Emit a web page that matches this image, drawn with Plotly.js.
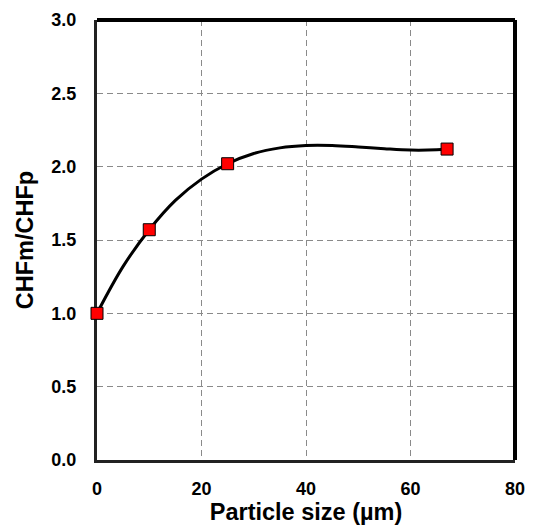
<!DOCTYPE html>
<html>
<head>
<meta charset="utf-8">
<script src="https://cdn.plot.ly/plotly-3.0.1.min.js"></script>
<style>html,body{margin:0;padding:0;background:#fff;}#chart{width:535px;height:526px;}</style>
</head>
<body>
<div id="chart"></div>
<script>
// Measured points
const particleSize = [0, 10, 25, 67];
const chfRatio = [1.0, 1.57, 2.02, 2.12];
// Trend curve
const curveX = [0, 5, 10, 15, 20, 25, 30, 35, 40, 45, 50, 55, 60, 65, 67];
const curveY = [1.0, 1.32, 1.57, 1.77, 1.915, 2.02, 2.09, 2.128, 2.144, 2.144, 2.134, 2.122, 2.113, 2.115, 2.12];
const xTicks = [0, 20, 40, 60, 80];
const yTicks = [0.0, 0.5, 1.0, 1.5, 2.0, 2.5, 3.0];

const fontFam = '"Liberation Sans", Arial, sans-serif';

const traces = [
  {x: curveX, y: curveY, mode: 'lines', line: {color: '#000', width: 3, shape: 'spline', smoothing: 1}, hoverinfo: 'skip', showlegend: false, cliponaxis: false},
  {x: particleSize, y: chfRatio, mode: 'markers', cliponaxis: false, marker: {symbol: 'square', size: 12, color: '#ff0000', line: {color: '#000', width: 1}}, showlegend: false}
];

const layout = {
  width: 535, height: 526,
  margin: {l: 97, r: 20, t: 20, b: 66},
  paper_bgcolor: '#fff', plot_bgcolor: '#fff',
  font: {family: fontFam, color: '#000'},
  showlegend: false,
  xaxis: {
    range: [0, 80], tickvals: xTicks, ticktext: xTicks.map(v => String(v)),
    showgrid: true, gridcolor: '#8a8a8a', gridwidth: 1, griddash: '6px,4px',
    zeroline: false, showline: true, linecolor: '#222', linewidth: 3,
    ticks: '', ticklabelstandoff: 10, layer: 'below traces',
    tickfont: {family: fontFam, size: 18, color: '#000', weight: 'bold'},
    title: {text: '<b>Particle size (µm)</b>', font: {family: fontFam, size: 23.5, color: '#000'}, standoff: 5}
  },
  yaxis: {
    range: [0, 3], tickvals: yTicks, ticktext: yTicks.map(v => v.toFixed(1)),
    showgrid: true, gridcolor: '#8a8a8a', gridwidth: 1, griddash: '6px,4px',
    zeroline: false, showline: true, linecolor: '#222', linewidth: 3,
    ticks: '', ticklabelstandoff: 14, layer: 'below traces',
    tickfont: {family: fontFam, size: 18, color: '#000', weight: 'bold'},
    title: {text: '<b>CHFm/CHFp</b>', font: {family: fontFam, size: 23.5, color: '#000'}, standoff: 12}
  },
  shapes: [
    {type: 'line', xref: 'paper', yref: 'paper', x0: 0, x1: 1, y0: 1, y1: 1, line: {color: '#000', width: 4}},
    {type: 'line', xref: 'paper', yref: 'paper', x0: 1, x1: 1, y0: 0, y1: 1, line: {color: '#000', width: 4}}
  ]
};

Plotly.newPlot('chart', traces, layout, {displayModeBar: false, staticPlot: true});
</script>
</body>
</html>
